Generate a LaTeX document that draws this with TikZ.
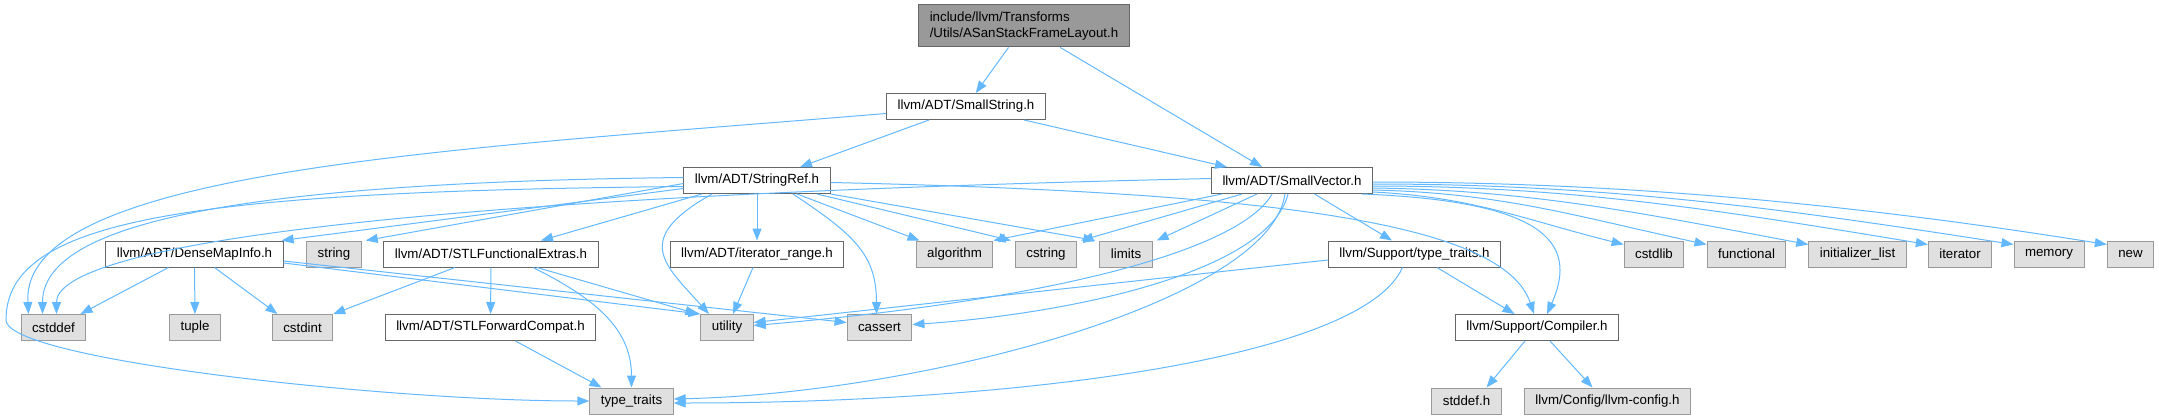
\documentclass[tikz,border=0pt]{standalone}
\usepackage{fontspec}
\setmainfont{Liberation Sans}
\usepackage{tikz}
\usetikzlibrary{arrows.meta}
\definecolor{edgec}{HTML}{63B8FF}
\definecolor{hline}{HTML}{666666}
\definecolor{sline}{HTML}{999999}
\definecolor{sysbg}{HTML}{E0E0E0}
\definecolor{rootbg}{HTML}{999999}
\tikzset{
  ar/.style={-{Triangle[length=12pt,width=9pt]},edgec,line width=1pt},
  hbox/.style={draw=hline,line width=1pt,fill=white,minimum height=26pt,inner xsep=11pt,inner ysep=0pt,font=\fontsize{13.3}{16}\selectfont},
  sbox/.style={hbox,draw=sline,fill=sysbg},
  rbox/.style={hbox,fill=rootbg,align=left,minimum height=42pt}
}
\begin{document}
\begin{tikzpicture}[x=1pt,y=-1pt]
\useasboundingbox (0,0) rectangle (2159,420);
% top
\node[rbox] (root) at (1024,26) {include/llvm/Transforms\\/Utils/ASanStackFrameLayout.h};
\node[hbox] (smlstr) at (966,106.5) {llvm/ADT/SmallString.h};
\node[hbox] (strref) at (757,180.5) {llvm/ADT/StringRef.h};
\node[hbox] (smlvec) at (1292,180.5) {llvm/ADT/SmallVector.h};
% row 3
\node[hbox] (densemap) at (194.5,254) {llvm/ADT/DenseMapInfo.h};
\node[sbox] (string) at (334,254) {string};
\node[hbox] (stlfunc) at (491,254) {llvm/ADT/STLFunctionalExtras.h};
\node[hbox] (itrange) at (757,254) {llvm/ADT/iterator\_range.h};
\node[sbox] (algorithm) at (954.5,254) {algorithm};
\node[sbox] (cstring) at (1046,254) {cstring};
\node[sbox] (limits) at (1126,254) {limits};
\node[hbox] (suptt) at (1414.5,254) {llvm/Support/type\_traits.h};
\node[sbox] (cstdlib) at (1654,254) {cstdlib};
\node[sbox] (functional) at (1746.5,254) {functional};
\node[sbox] (initlist) at (1857.5,254) {initializer\_list};
\node[sbox] (iterator) at (1960,254) {iterator};
\node[sbox] (memory) at (2049,254) {memory};
\node[sbox] (new) at (2130.5,254) {new};
% row 4
\node[sbox] (cstddef) at (53.5,327.5) {cstddef};
\node[sbox] (tuple) at (195,327.5) {tuple};
\node[sbox] (cstdint) at (302.5,327.5) {cstdint};
\node[hbox] (stlfwd) at (490.5,327.5) {llvm/ADT/STLForwardCompat.h};
\node[sbox] (utility) at (727,327.5) {utility};
\node[sbox] (cassert) at (879.5,327.5) {cassert};
\node[hbox] (compiler) at (1537,327.5) {llvm/Support/Compiler.h};
% row 5
\node[sbox] (typetraits) at (631.5,401) {type\_traits};
\node[sbox] (stddef) at (1466.5,401) {stddef.h};
\node[sbox] (llvmcfg) at (1607.5,401) {llvm/Config/llvm-config.h};
\coordinate (ttbend) at (6,320);
% root and SmallString
\draw[ar] (root) -- (smlstr);
\draw[ar] (root) -- ([xshift=-30]smlvec.north);
\draw[ar] (smlstr) -- ([xshift=43]strref.north);
\draw[ar] (smlstr) -- ([xshift=-65]smlvec.north);
\draw[ar] ([yshift=-7]smlstr.west) .. controls +(-437,36) and +(-8,-144) .. ([xshift=-25]cstddef.north);
% StringRef
\draw[ar] ([yshift=3]strref.west) .. controls +(-450,5) and +(0,-90) .. ([xshift=-11]cstddef.north);
\draw[ar] ([yshift=-6]strref.west) .. controls +(-500,5) and +(0,-100) .. (ttbend) .. controls +(0,40) and +(-200,0) .. (typetraits.west);
\draw[ar] ([yshift=-8]strref.west) -- ([xshift=-2]densemap.north east);
\draw[ar] ([yshift=-3]strref.west) -- ([xshift=4]string.north east);
\draw[ar] ([xshift=-55]strref.south) -- ([xshift=50]stlfunc.north);
\draw[ar] (strref) -- (itrange);
\draw[ar] ([xshift=40]strref.south) -- ([xshift=-35]algorithm.north);
\draw[ar] ([xshift=60]strref.south) -- ([xshift=-4]cstring.north west);
\draw[ar] (strref.south east) -- ([xshift=-4]limits.north west);
\draw[ar] ([xshift=-45]strref.south) .. controls +(-80,45) and +(-45,-50) .. ([xshift=-18]utility.north);
\draw[ar] ([xshift=36]strref.south) .. controls +(60,40) and +(0,-60) .. ([xshift=-3]cassert.north);
\draw[ar] ([yshift=-2]strref.east) .. controls +(450,10) and +(-30,-90) .. ([xshift=-3]compiler.north);
% SmallVector
\draw[ar] ([yshift=2]smlvec.west) .. controls +(-900,20) and +(0,-60) .. ([xshift=3]cstddef.north);
\draw[ar] ([xshift=-70]smlvec.south) -- (algorithm.north east);
\draw[ar] ([xshift=-50]smlvec.south) -- ([xshift=4]cstring.north east);
\draw[ar] ([xshift=-35]smlvec.south) -- ([xshift=4]limits.north east);
\draw[ar] ([xshift=-20]smlvec.south) .. controls +(-32,57) and +(294,-25) .. ([yshift=2]utility.east);
\draw[ar] ([xshift=-4]smlvec.south) .. controls +(-20,80) and +(150,-10) .. ([yshift=3]cassert.east);
\draw[ar] ([xshift=-7]smlvec.south) .. controls +(-15,107) and +(250,-6) .. ([yshift=2]typetraits.east);
\draw[ar] (smlvec) -- (suptt);
\draw[ar] ([xshift=70]smlvec.south) .. controls +(178,7) and +(33,-74) .. ([xshift=10]compiler.north);
\draw[ar] ([yshift=-11.5]smlvec.east) .. controls +(100,5) and +(-100,-25) .. ([yshift=-4]cstdlib.north west);
\draw[ar] ([yshift=-9.5]smlvec.east) .. controls +(130,3) and +(-130,-28) .. ([yshift=-4]functional.north west);
\draw[ar] ([yshift=-7.5]smlvec.east) .. controls +(160,2) and +(-160,-30) .. ([yshift=-4]initlist.north west);
\draw[ar] ([yshift=-5.5]smlvec.east) .. controls +(200,0) and +(-200,-33) .. ([yshift=-4]iterator.north west);
\draw[ar] ([yshift=-3.5]smlvec.east) .. controls +(230,0) and +(-230,-36) .. ([yshift=-4]memory.north west);
\draw[ar] ([yshift=-1.5]smlvec.east) .. controls +(250,0) and +(-250,-40) .. ([yshift=-4]new.north west);
% Support/type_traits.h
\draw[ar] ([yshift=-6]suptt.west) -- ([yshift=5]utility.east);
\draw[ar] ([xshift=-12]suptt.south) .. controls +(-40,90) and +(350,0) .. ([yshift=-2]typetraits.east);
\draw[ar] (suptt) -- (compiler);
% DenseMapInfo
\draw[ar] ([xshift=-26]densemap.south) -- ([xshift=27]cstddef.north);
\draw[ar] (densemap) -- (tuple);
\draw[ar] ([xshift=20]densemap.south) -- ([xshift=-25]cstdint.north);
\draw[ar] ([yshift=-9]densemap.east) -- (utility.north west);
\draw[ar] ([yshift=-7]densemap.east) -- ([yshift=5]cassert.west);
% STLFunctionalExtras and the rest
\draw[ar] ([xshift=-36]stlfunc.south) -- (cstdint.north east);
\draw[ar] (stlfunc) -- (stlfwd);
\draw[ar] ([xshift=42]stlfunc.south) .. controls +(60,30) and +(0,-60) .. (typetraits.north);
\draw[ar] ([xshift=46]stlfunc.south) -- ([xshift=-3]utility.north west);
\draw[ar] ([xshift=25]stlfwd.south) -- ([xshift=-30]typetraits.north);
\draw[ar] ([xshift=-4]itrange.south) -- ([xshift=6]utility.north);
\draw[ar] ([xshift=-12]compiler.south) -- ([xshift=20]stddef.north);
\draw[ar] ([xshift=13]compiler.south) -- ([xshift=-15]llvmcfg.north);
\end{tikzpicture}
\end{document}
